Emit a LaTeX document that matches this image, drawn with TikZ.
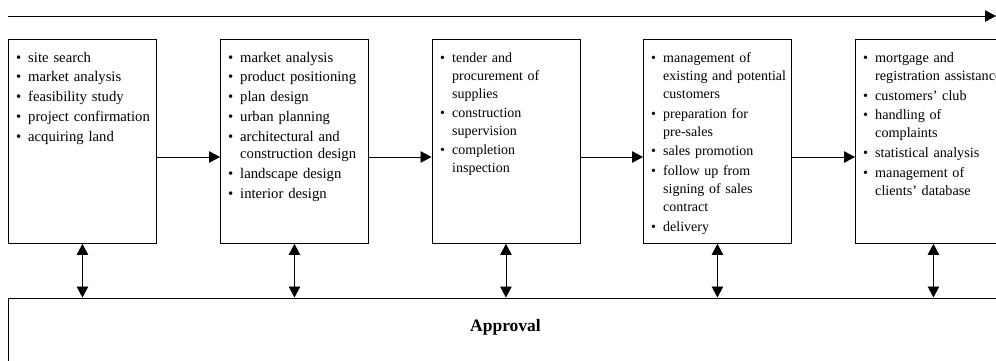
\documentclass[tikz,border=0pt]{standalone}
\usepackage{fontspec}
\setmainfont{Liberation Serif}
\usetikzlibrary{arrows.meta}
\newcommand{\itm}[1]{\hangindent=12pt\hangafter=1\noindent\makebox[12pt][l]{\rule{0pt}{11pt}\textbullet}#1\par}
\newcommand{\nl}{\newline}
\tikzset{
  stage/.style={draw, line width=0.9pt, minimum width=148pt, minimum height=204pt, inner sep=0pt, anchor=north west},
  txt/.style={anchor=north west, inner sep=0pt, text width=170pt, font=\fontsize{14.7}{17.9}\selectfont},
  txtn/.style={txt, font=\fontsize{14}{18}\selectfont},
  txtm/.style={txt, font=\fontsize{14.2}{18}\selectfont},
  conn/.style={line width=0.9pt, -{Triangle[length=11pt,width=11.5pt]}},
  dconn/.style={line width=0.9pt, {Triangle[length=11pt,width=11.5pt]}-{Triangle[length=11pt,width=11.5pt]}},
}
\begin{document}
\begin{tikzpicture}[x=1pt,y=1pt]
\clip (0,0) rectangle (996,360);
\useasboundingbox (0,0) rectangle (996,360);
% top arrow
\coordinate (ts) at (8,344);
\coordinate (te) at (996,344);
\draw[conn] (ts) -- (te);
% stage boxes
\node[stage] (b1) at (8,321) {};
\node[stage] (b2) at (220,321) {};
\node[stage] (b3) at (431.5,321) {};
\node[stage] (b4) at (643,321) {};
\node[stage, minimum width=156pt] (b5) at (855,321) {};
% texts
\node[txt] (t1) at ([xshift=8pt,yshift=-12pt]b1.north west) {\raggedright\parskip=1.8pt
\itm{site search}\itm{market analysis}\itm{feasibility study}\itm{project confirmation}\itm{acquiring land}};
\node[txt] (t2) at ([xshift=8pt,yshift=-12pt]b2.north west) {\raggedright\parskip=1.8pt
\itm{market analysis}\itm{product positioning}\itm{plan design}\itm{urban planning}\itm{architectural and\nl construction design}\itm{landscape design}\itm{interior design}};
\node[txtn] (t3) at ([xshift=8.5pt,yshift=-12pt]b3.north west) {\raggedright\parskip=1.3pt
\itm{tender and\nl procurement of\nl supplies}\itm{construction\nl supervision}\itm{completion\nl inspection}};
\node[txtn] (t4) at ([xshift=8pt,yshift=-12pt]b4.north west) {\raggedright\parskip=1.8pt
\itm{management of\nl existing and potential\nl customers}\itm{preparation for\nl pre-sales}\itm{sales promotion}\itm{follow up from\nl signing of sales\nl contract}\itm{delivery}};
\node[txtm] (t5) at ([xshift=8pt,yshift=-12pt]b5.north west) {\raggedright\parskip=1.8pt
\itm{mortgage and\nl registration assistance}\itm{customers’ club}\itm{handling of\nl complaints}\itm{statistical analysis}\itm{management of\nl clients’ database}};
% approval box
\node[draw, line width=0.9pt, anchor=north west, minimum width=1010pt, minimum height=90pt, inner sep=0pt] (ap) at (8,62.5) {};
\node[font=\fontsize{17.5}{20}\selectfont\bfseries, anchor=base] (apt) at (505.5,28.3) {Approval};
% horizontal arrows
\draw[conn] (b1.east |- 0,203) -- (b2.west |- 0,203);
\draw[conn] (b2.east |- 0,203) -- (b3.west |- 0,203);
\draw[conn] (b3.east |- 0,203) -- (b4.west |- 0,203);
\draw[conn] (b4.east |- 0,203) -- (b5.west |- 0,203);
% vertical double arrows
\draw[dconn] (b1.south) -- (b1.south |- ap.north);
\draw[dconn] (b2.south) -- (b2.south |- ap.north);
\draw[dconn] (b3.south) -- (b3.south |- ap.north);
\draw[dconn] (b4.south) -- (b4.south |- ap.north);
\draw[dconn] (b5.south) -- (b5.south |- ap.north);
\end{tikzpicture}
\end{document}
